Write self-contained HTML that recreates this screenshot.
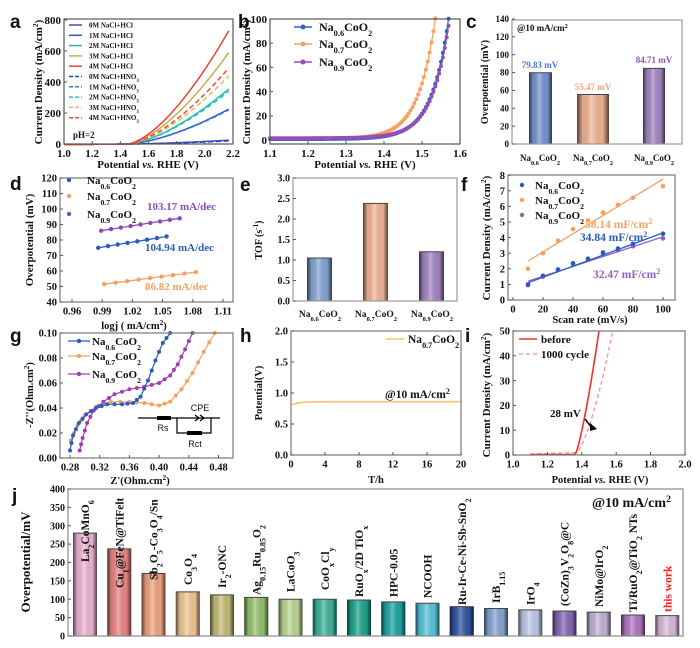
<!DOCTYPE html>
<html><head><meta charset="utf-8"><style>
html,body{margin:0;padding:0;background:#fff;width:700px;height:648px;overflow:hidden}
svg text{font-family:"Liberation Serif",serif;font-weight:bold;fill:#111}
</style></head><body>
<svg id="s" width="700" height="648" viewBox="0 0 700 648" xmlns="http://www.w3.org/2000/svg"></svg>
<script>
var S=[];
function fm(s){s=String(s);return s.replace(/_\{([^}]*)\}/g,'<tspan baseline-shift="sub" font-size="70%">$1</tspan>').replace(/\^\{([^}]*)\}/g,'<tspan baseline-shift="super" font-size="70%">$1</tspan>');}
function T(x,y,s,a){S.push('<text x="'+x+'" y="'+y+'" '+(a||'')+'>'+fm(s)+'</text>');}
function R(x,y,s,fs,a){S.push('<text transform="translate('+x+','+y+') rotate(-90)" text-anchor="middle" font-size="'+fs+'" '+(a||'')+'>'+fm(s)+'</text>');}
function L(t){S.push(t);}
function frame(x0,y0,x1,y1,c){L('<rect x="'+x0+'" y="'+y0+'" width="'+(x1-x0)+'" height="'+(y1-y0)+'" fill="none" stroke="'+(c||'#666')+'" stroke-width="1.2"/>');}
function xt(y,arr,fs){arr.forEach(function(a){L('<line x1="'+a[0]+'" x2="'+a[0]+'" y1="'+y+'" y2="'+(y-3)+'" stroke="#555"/>');T(a[0],y+fs+2,a[1],'text-anchor="middle" font-size="'+fs+'"');});}
function yt(x,arr,fs){arr.forEach(function(a){L('<line x1="'+x+'" x2="'+(x+3)+'" y1="'+a[0]+'" y2="'+a[0]+'" stroke="#555"/>');T(x-3,a[0]+fs*0.35,a[1],'text-anchor="end" font-size="'+fs+'"');});}
function rng(a,b,st){var r=[];for(var v=a;v<=b+st*1e-6;v+=st)r.push(v);return r;}
function pl(pts,c,w,d){L('<polyline fill="none" stroke="'+c+'" stroke-width="'+(w||1.5)+'" '+(d?'stroke-dasharray="'+d+'"':'')+' points="'+pts.map(function(p){return p[0].toFixed(1)+','+p[1].toFixed(1)}).join(' ')+'"/>');}
function dots(pts,c,r){pts.forEach(function(p){L('<circle cx="'+p[0].toFixed(1)+'" cy="'+p[1].toFixed(1)+'" r="'+(r||2)+'" fill="'+c+'"/>');});}
function letter(x,y,s){S.push('<text x="'+x+'" y="'+y+'" style="font-family:Liberation Sans,sans-serif" font-size="19" font-weight="bold">'+s+'</text>');}
function NA(n){return 'Na_{'+n+'}CoO_{2}';}
L('<defs><linearGradient id="sh" x1="0" x2="1" y1="0" y2="0"><stop offset="0" stop-color="#000" stop-opacity="0.65"/><stop offset="0.18" stop-color="#000" stop-opacity="0.1"/><stop offset="0.45" stop-color="#fff" stop-opacity="0.3"/><stop offset="0.8" stop-color="#000" stop-opacity="0.05"/><stop offset="1" stop-color="#000" stop-opacity="0.65"/></linearGradient></defs>');
function bar(x0,x1,yt_,yb,c){L('<rect x="'+x0+'" y="'+yt_+'" width="'+(x1-x0)+'" height="'+(yb-yt_)+'" fill="'+c+'"/>');L('<rect x="'+x0+'" y="'+yt_+'" width="'+(x1-x0)+'" height="'+(yb-yt_)+'" fill="url(#sh)"/>');L('<line x1="'+x0+'" x2="'+x1+'" y1="'+yt_+'" y2="'+yt_+'" stroke="#444" stroke-width="1"/>');}

/* ---- a ---- */
letter(10,28,'a');
(function(){var X=function(v){return 64+(v-1)*140.8},Y=function(j){return 144-j*0.155};
var ser=[['#3a4fc0',25,''],['#2a55c8',225,''],['#20b8b0',355,''],['#c0b050',590,''],['#f04030',730,''],
['#2a45c0',20,'5,3'],['#3a78d8',220,'5,3'],['#30c0c0',340,'5,3'],['#d0c060',440,'5,3'],['#f04a40',490,'5,3']];
ser.forEach(function(s){var p=[];rng(1.0,2.17,0.01).forEach(function(v){var j=v<1.45?-4+ (v-1)*8:s[1]*Math.pow((v-1.45)/0.72,1.55);p.push([X(v),Y(j)]);});pl(p,s[0],1.5,s[2]);});
frame(64,19,233,144,'#555');
xt(144,rng(1,2.2,0.2).map(function(v){return [X(v),v.toFixed(1)]}),11);
yt(64,[0,200,400,600,800].map(function(v){return [Y(v),v]}),11);
var lab=['0M NaCl+HCl','1M NaCl+HCl','2M NaCl+HCl','3M NaCl+HCl','4M NaCl+HCl','0M NaCl+HNO_{3}','1M NaCl+HNO_{3}','2M NaCl+HNO_{3}','3M NaCl+HNO_{3}','4M NaCl+HNO_{3}'];
lab.forEach(function(t,i){var y=25+i*10.3;L('<line x1="69" x2="82" y1="'+y+'" y2="'+y+'" stroke="'+ser[i][0]+'" stroke-width="1.5" '+(ser[i][2]?'stroke-dasharray="4,2"':'')+'/>');T(89,y+2.5,t,'font-size="7"');});
T(73,138,'pH=2','font-size="9"');
R(42,82,'Current Density (mA/cm^{2})',11);
T(148,168,'Potential <tspan font-style="italic">vs.</tspan> RHE (V)','text-anchor="middle" font-size="11"');
})();

/* ---- b ---- */
letter(238,28,'b');
(function(){var X=function(v){return 270+(v-1.1)*380},Y=function(j){return 140-j*1.21};
var ser=[['#3060c0',1.363,0.8],['#f8a060',1.328,1.0],['#9050b8',1.366,1.5]];
[1,0,2].forEach(function(k){var s=ser[k];var p=[];rng(1.1,1.6,0.005).forEach(function(v){var j=s[2]+Math.exp((v-s[1])/0.045);if(j<=101)p.push([X(v),Y(j)]);});pl(p,s[0],1.2);dots(p,s[0],2);});
frame(270,19,460,144,'#555');
xt(144,rng(1.1,1.6,0.1).map(function(v){return [X(v),v.toFixed(1)]}),11);
yt(270,[0,20,40,60,80,100].map(function(v){return [Y(v),v]}),11);
['0.6','0.7','0.9'].forEach(function(n,i){var y=[27,44,62][i];var c=ser[i][0];L('<line x1="294" x2="312" y1="'+y+'" y2="'+y+'" stroke="'+c+'" stroke-width="1.5"/>');dots([[303,y]],c,2.5);T(319,y+4,NA(n),'font-size="12"');});
R(250,82,'Current Density (mA/cm^{2})',11);
T(365,168,'Potential <tspan font-style="italic">vs.</tspan> RHE (V)','text-anchor="middle" font-size="11"');
})();

/* ---- c ---- */
letter(466,28,'c');
(function(){var Y=function(v){return 144-v*0.893};
bar(529,552,Y(79.83),144,'#7a98d8');bar(577,609,Y(55.47),144,'#f8b898');bar(643,665,Y(84.71),144,'#a888c8');
frame(512,20,682,144,'#999');
yt(512,rng(0,140,20).map(function(v){return [Y(v),v]}),9);
T(540,68,'79.83 mV','text-anchor="middle" font-size="9" style="fill:#4a78d0"');
T(593,90,'55.47 mV','text-anchor="middle" font-size="9" style="fill:#f8a070"');
T(654,63,'84.71 mV','text-anchor="middle" font-size="9" style="fill:#8a58b8"');
T(517,31,'@10 mA/cm^{2}','font-size="9"');
[[540,'0.6'],[593,'0.7'],[654,'0.9']].forEach(function(a){T(a[0],161,NA(a[1]),'text-anchor="middle" font-size="9"');});
R(488,82,'Overpotential (mV)',10);
})();

/* ---- d ---- */
letter(10,190,'d');
(function(){var X=function(v){return 72+(v-0.96)*1006.7},Y=function(v){return 302-(v-40)*1.55};
function ser(x0,x1,y0,y1,n,c){var p=[];for(var i=0;i<n;i++){var t=i/(n-1);p.push([X(x0+(x1-x0)*t),Y(y0+(y1-y0)*t)]);}pl(p,c,1.3);dots(p,c,2.2);}
ser(0.989,1.067,86,94,9,'#8a4ab8');ser(0.986,1.054,75,82.3,8,'#2a5cc0');ser(0.992,1.083,51.5,59.3,9,'#f8a060');
frame(60,178,233,302,'#777');
xt(302,[0.96,0.99,1.02,1.05,1.08,1.11].map(function(v){return [X(v),v.toFixed(2)]}),10.5);
yt(60,rng(40,120,10).map(function(v){return [Y(v),v]}),10.5);
[['0.6','#2a5cc0',183],['0.7','#f8a060',199],['0.9','#8a4ab8',217]].forEach(function(a){dots([[69,a[2]-3]],a[1],2.2);T(87,a[2]+1,NA(a[0]),'font-size="11"');});
T(147,210,'103.17 mA/dec','font-size="11" style="fill:#8a4ab8"');
T(145,251,'104.94 mA/dec','font-size="11" style="fill:#2a5cc0"');
T(145,290,'86.82 mA/dec','font-size="11" style="fill:#f8a060"');
R(33,240,'Overpotential (mV)',11);
T(134,329,'logj ( mA/cm^{2})','text-anchor="middle" font-size="10.5"');
})();

/* ---- e ---- */
letter(240,191,'e');
(function(){var Y=function(v){return 301-v*41};
bar(307,332,Y(1.05),301,'#88a8d8');bar(363,388,Y(2.38),301,'#f8b898');bar(419,444,Y(1.2),301,'#a888c8');
frame(293,178,457,301,'#999');
yt(293,rng(0,3,0.5).map(function(v){return [Y(v),v.toFixed(1)]}),10);
[[320,'0.6'],[376,'0.7'],[432,'0.9']].forEach(function(a){T(a[0],317,NA(a[1]),'text-anchor="middle" font-size="9.5"');});
R(262,240,'TOF (s^{-1})',10);
})();

/* ---- f ---- */
letter(461,191,'f');
(function(){var X=function(v){return 513+v*1.5},Y=function(v){return 300-v*15.6};
var xs=[10,20,30,40,50,60,70,80,100];
var sr=[['#f8a060',[2,3,3.8,4.55,5.1,5.6,6.1,6.55,7.3],2.5,7.75],['#9060c0',[0.95,1.5,1.95,2.3,2.6,2.95,3.2,3.45,3.95],1.2,4.05],['#2a5cc0',[1,1.55,1.95,2.35,2.65,3.05,3.3,3.6,4.25],1.1,4.3]];
sr.forEach(function(s){pl([[X(10),Y(s[2])],[X(100),Y(s[3])]],s[0],1.3);dots(xs.map(function(x,i){return [X(x),Y(s[1][i])]}),s[0],2.3);});
frame(508,175,675,300,'#777');
xt(300,[0,20,40,60,80,100].map(function(v){return [X(v),v]}),10.5);
yt(508,rng(0,8,1).map(function(v){return [Y(v),v]}),10.5);
[['0.6','#2a5cc0',188],['0.7','#f8a060',203],['0.9','#9060c0',218]].forEach(function(a){dots([[522,a[2]-3]],a[1],2.2);T(535,a[2]+1,NA(a[0]),'font-size="11"');});
T(585,228,'58.14 mF/cm^{2}','font-size="11.5" style="fill:#f8a060"');
T(580,241,'34.84 mF/cm^{2}','font-size="11.5" style="fill:#2a5cc0"');
T(593,278,'32.47 mF/cm^{2}','font-size="11.5" style="fill:#9060c0"');
R(490,238,'Current Density (mA/cm^{2})',11);
T(590,323,'Scan rate (mV/s)','text-anchor="middle" font-size="10.5"');
})();

/* ---- g ---- */
letter(10,342,'g');
(function(){var X=function(v){return 70+(v-0.28)*742.5},Y=function(v){return 458-v*1250};
function sm(pts,n){var out=[];for(var i=0;i<pts.length-1;i++){for(var k=0;k<n;k++){var t=k/n;out.push([pts[i][0]+(pts[i+1][0]-pts[i][0])*t,pts[i][1]+(pts[i+1][1]-pts[i][1])*t]);}}out.push(pts[pts.length-1]);return out;}
var blue=[[0.280,0.006],[0.284,0.018],[0.292,0.028],[0.302,0.035],[0.315,0.040],[0.33,0.043],[0.35,0.043],[0.365,0.044],[0.375,0.049],[0.385,0.062],[0.395,0.078],[0.405,0.092],[0.415,0.10]];
var orng=[[0.281,0.014],[0.29,0.026],[0.30,0.034],[0.315,0.041],[0.335,0.045],[0.36,0.045],[0.38,0.044],[0.40,0.042],[0.415,0.045],[0.43,0.055],[0.445,0.068],[0.46,0.085],[0.475,0.10]];
var purp=[[0.293,0.006],[0.297,0.016],[0.303,0.028],[0.312,0.038],[0.325,0.045],[0.34,0.051],[0.36,0.055],[0.38,0.057],[0.40,0.060],[0.415,0.066],[0.425,0.075],[0.435,0.087],[0.445,0.10]];
[[orng,'#f8a060'],[purp,'#a040b0'],[blue,'#2a5cc0']].forEach(function(s){var p=s[0].map(function(a){return [X(a[0]),Y(a[1])]});pl(p,s[1],1.2);dots(sm(p,2),s[1],2);});
frame(60,333,233,458,'#777');
xt(458,[0.28,0.32,0.36,0.40,0.44,0.48].map(function(v){return [X(v),v.toFixed(2)]}),10.5);
yt(60,rng(0,0.1,0.02).map(function(v){return [Y(v),v.toFixed(2)]}),10.5);
[['0.6','#2a5cc0',344],['0.7','#f8a060',359],['0.9','#a040b0',377]].forEach(function(a){L('<line x1="68" x2="90" y1="'+(a[2]-3)+'" y2="'+(a[2]-3)+'" stroke="'+a[1]+'" stroke-width="1.3"/>');dots([[79,a[2]-3]],a[1],2.2);T(92,a[2]+1,NA(a[0]),'font-size="11"');});
L('<g stroke="#000" stroke-width="1.2" fill="none"><line x1="138" x2="220" y1="418" y2="418"/><polyline points="177,418 177,433 211,433 211,418"/><polyline points="195,415 199,418 195,421"/><polyline points="200,415 204,418 200,421"/></g>');
L('<rect x="157" y="416" width="14" height="4" fill="#000"/><rect x="187" y="431" width="15" height="4" fill="#000"/>');
S.push('<text x="200" y="411" font-size="9" style="font-family:Liberation Sans,sans-serif;font-weight:normal" text-anchor="middle">CPE</text>');
S.push('<text x="163" y="431" font-size="9" style="font-family:Liberation Sans,sans-serif;font-weight:normal" text-anchor="middle">Rs</text>');
S.push('<text x="195" y="447" font-size="9" style="font-family:Liberation Sans,sans-serif;font-weight:normal" text-anchor="middle">Rct</text>');
R(33,395,'-Z\'\'(Ohm.cm^{2})',10.5);
T(140,484,'Z\'(Ohm.cm^{2})','text-anchor="middle" font-size="10.5"');
})();

/* ---- h ---- */
letter(240,342,'h');
(function(){var X=function(t){return 291+t*8.5},Y=function(v){return 455-v*62};
var p=[];rng(0,20,0.2).forEach(function(t){var v=0.86-0.055*Math.exp(-t/0.9);p.push([X(t),Y(v)]);});pl(p,'#f8c070',1.6);
frame(291,331,461,455,'#777');
xt(455,[0,4,8,12,16,20].map(function(v){return [X(v),v]}),10.5);
yt(291,rng(0,2,0.5).map(function(v){return [Y(v),v.toFixed(1)]}),10.5);
L('<line x1="386" x2="404" y1="339" y2="339" stroke="#f8c070" stroke-width="1.6"/>');T(408,343,'Na_{0.7}CoO_{2}','font-size="11.5"');
T(385,398,'@10 mA/cm^{2}','font-size="11.5"');
R(262,393,'Potential(V)',10.5);
T(376,483,'T/h','text-anchor="middle" font-size="10.5"');
})();

/* ---- i ---- */
letter(465,342,'i');
(function(){var X=function(v){return 513+(v-1)*172},Y=function(j){return 455-j*2.48};
var a=[],b=[];rng(1.1,1.6,0.005).forEach(function(v){var j=v<1.36?0.2:50*Math.pow((v-1.36)/0.14,1.3);if(j<=50.5)a.push([X(v),Y(j)]);var k=v<1.365?0.4+(v-1.1)*2:1+49*Math.pow((v-1.365)/0.215,1.5);if(k<=50.5)b.push([X(v),Y(k)]);});
pl(b,'#f89090',1.3,'4,3');pl(a,'#f03028',1.6);
frame(513,331,685,455,'#777');
xt(455,rng(1,2,0.2).map(function(v){return [X(v),v.toFixed(1)]}),10.5);
yt(513,[0,10,20,30,40,50].map(function(v){return [Y(v),v]}),10.5);
L('<line x1="519" x2="537" y1="339" y2="339" stroke="#f03028" stroke-width="1.6"/><line x1="519" x2="537" y1="354" y2="354" stroke="#f89090" stroke-width="1.3" stroke-dasharray="4,3"/>');
T(541,343,'before','font-size="11"');T(541,358,'1000 cycle','font-size="11"');
T(550,417,'28 mV','font-size="11"');
L('<line x1="585" x2="592" y1="419" y2="428" stroke="#000" stroke-width="1.5"/><polygon points="590,431 597,429 590,423" fill="#000"/>');
R(490,395,'Current Density (mA/cm^{2})',11);
T(600,483,'Potential <tspan font-style="italic">vs.</tspan> RHE (V)','text-anchor="middle" font-size="10.5"');
})();

/* ---- j ---- */
letter(12,502,'j');
(function(){var Y=function(v){return 636-v*0.3675};
var d=[[280,'#f4b8d8','La_{2}CoMnO_{6}',562],[237,'#f08888','Cu_{1}@FeN@TiFelt',588],[170,'#f4a880','Sb_{2}O_{5}-Co_{3}O_{4}/Sn',580],[120,'#f8cc98','Co_{3}O_{4}',585],[112,'#c8c078','Ir_{2}-ONC',588],[105,'#98c870','Ag_{0.15}Ru_{0.85}O_{2}',595],[100,'#c0dc98','LaCoO_{3}',592],[100,'#40b8a0','CoO_{x}Cl_{y}',590],[98,'#20a890','RuO_{x}/2D TiO_{x}',597],[93,'#20a8a8','HPC-0.05',597],[89,'#58c8e0','NCOOH',598],[80,'#3058a8','Ru-Ir-Ce-Ni-Sb-SnO_{2}',605],[75,'#88a8d8','IrB_{1.15}',603],[71,'#c0d0ec','IrO_{4}',605],[68,'#8868b8','(CoZn)_{3}V_{2}O_{8}@C',606],[65,'#c8b8dc','NiMo@IrO_{2}',607],[57,'#b878c8','Ti/RuO_{2}@TiO_{2} NTs',612],[55.47,'#e0c0e0','this work',612]];
d.forEach(function(a,i){var cx=85+i*34.25;bar(cx-12,cx+12,Y(a[0]),636,a[1]);S.push('<text transform="translate('+(cx+4)+','+a[3]+') rotate(-90)" font-size="11.5" '+(i==17?'style="fill:#f02020"':'')+'>'+fm(a[2])+'</text>');});
frame(68,489,683,636,'#888');
yt(68,rng(0,400,50).map(function(v){return [Y(v),v]}),10);
T(592,507,'@10 mA/cm^{2}','font-size="14"');
R(30,562,'Overpotential/mV',13);
})();
document.getElementById('s').innerHTML=S.join('');
</script>
</body></html>
